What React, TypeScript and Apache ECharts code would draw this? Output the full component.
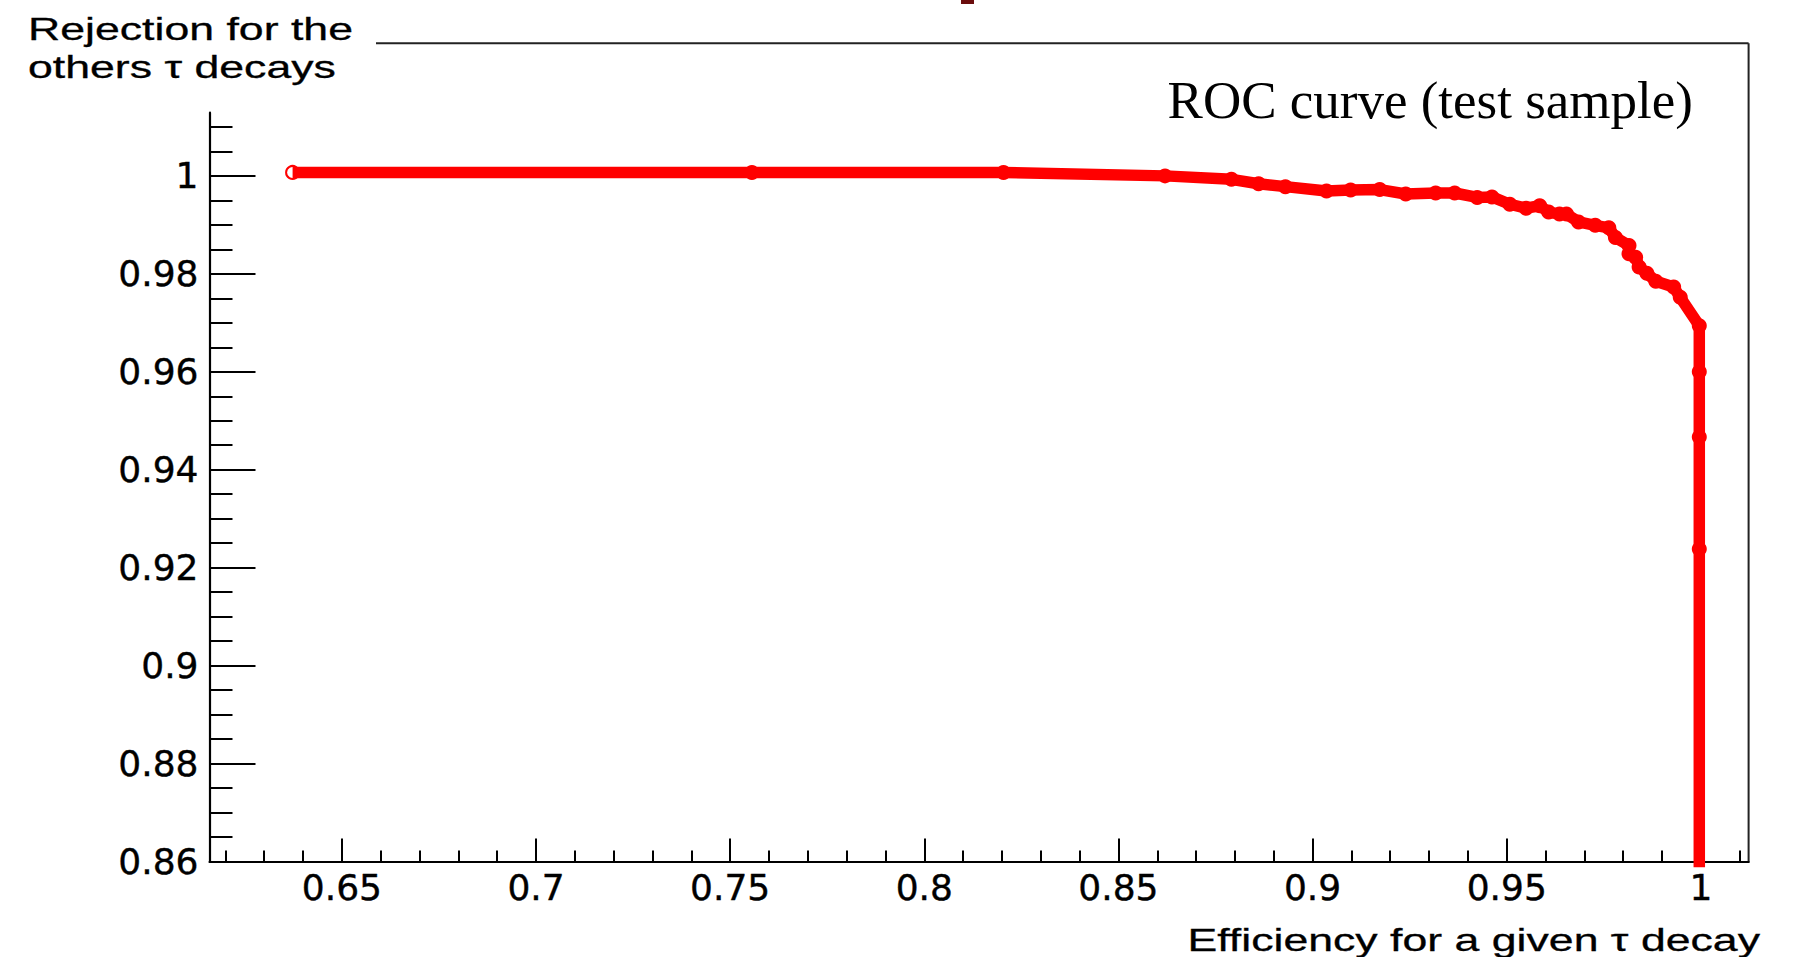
import React, { useEffect, useRef } from "react";
import * as echarts from "echarts";

// ROC curve points: signal efficiency (x) vs background rejection (y)
const effValues = [
  0.6373, 0.7556, 0.8204, 0.862, 0.8791, 0.8861, 0.893, 0.9036, 0.9098, 0.9173,
  0.924, 0.9317, 0.9366, 0.9424, 0.9462, 0.9508, 0.955, 0.9585, 0.9608, 0.9636,
  0.9654, 0.9685, 0.9728, 0.9763, 0.978, 0.9815, 0.9815, 0.9832, 0.9841, 0.9861,
  0.9884, 0.993, 0.9947, 0.9996, 0.9996, 0.9996, 0.9996, 0.9996,
];
const rejValues = [
  1.0007, 1.0007, 1.0007, 1.0, 0.9993, 0.9984, 0.9978, 0.9969, 0.9971, 0.9972,
  0.9963, 0.9965, 0.9965, 0.9956, 0.9957, 0.9942, 0.9934, 0.9939, 0.9926, 0.9922,
  0.9922, 0.9906, 0.9899, 0.9894, 0.9874, 0.9858, 0.9841, 0.9834, 0.9814, 0.9801,
  0.9785, 0.9773, 0.9752, 0.9694, 0.96, 0.9467, 0.9238, 0.85,
];

const X_MIN = 0.6159;
const X_MAX = 1.0123;
const Y_MIN = 0.86;
const Y_MAX = 1.0129;

const xMajorTicks = [0.65, 0.7, 0.75, 0.8, 0.85, 0.9, 0.95, 1.0];
const xMinorTicks = [
  0.62, 0.63, 0.64, 0.66, 0.67, 0.68, 0.69, 0.71, 0.72, 0.73, 0.74, 0.76, 0.77,
  0.78, 0.79, 0.81, 0.82, 0.83, 0.84, 0.86, 0.87, 0.88, 0.89, 0.91, 0.92, 0.93,
  0.94, 0.96, 0.97, 0.98, 0.99, 1.01,
];
const yMajorTicks = [0.86, 0.88, 0.9, 0.92, 0.94, 0.96, 0.98, 1.0];
const yMinorTicks = [
  0.865, 0.87, 0.875, 0.885, 0.89, 0.895, 0.905, 0.91, 0.915, 0.925, 0.93,
  0.935, 0.945, 0.95, 0.955, 0.965, 0.97, 0.975, 0.985, 0.99, 0.995, 1.005,
  1.01,
];

const RED = "#ff0000";
const LABEL_FONT = "DejaVu Sans";
const TITLE_FONT = "Liberation Sans";
const SERIF = "Liberation Serif";

const fmt = (v: number) => String(Number(v.toFixed(3)));

export default function App() {
  const ref = useRef<HTMLDivElement>(null);

  useEffect(() => {
    if (!ref.current) return;
    const chart = echarts.init(ref.current, undefined, { renderer: "svg" });

    const points = effValues.map((x, i) => {
      const item: any = { value: [x, rejValues[i]] };
      if (i === 0) {
        item.symbolSize = 13;
        item.itemStyle = {
          color: "rgba(255,255,255,0)",
          borderColor: RED,
          borderWidth: 2,
        };
      }
      return item;
    });

    const tickLine = { color: "#000", width: 2 };

    const titleText = (text: string, x: number, y: number, align: string) => ({
      type: "text",
      x,
      y,
      scaleX: 1.44,
      style: {
        text,
        fontFamily: TITLE_FONT,
        fontSize: 31,
        fill: "#000",
        stroke: "#000",
        lineWidth: 0.3,
        align,
        verticalAlign: "middle",
      },
    });

    const labelStyle = {
      show: true,
      formatter: fmt,
      fontFamily: LABEL_FONT,
      fontSize: 36,
      color: "#000",
      textBorderColor: "#000",
      textBorderWidth: 0.4,
    };

    chart.setOption({
      animation: false,
      backgroundColor: "#fff",
      grid: {
        left: 209.5,
        right: 51.4,
        top: 112.7,
        bottom: 95.5,
        containLabel: false,
        outerBoundsMode: "none",
      },
      xAxis: [
        {
          type: "value",
          position: "bottom",
          min: X_MIN,
          max: X_MAX,
          axisLine: { show: true, lineStyle: { color: "#000", width: 2.2 } },
          axisTick: {
            show: true,
            inside: true,
            length: 23,
            lineStyle: tickLine,
            customValues: xMajorTicks,
          },
          axisLabel: { ...labelStyle, customValues: xMajorTicks, margin: 8 },
          splitLine: { show: false },
        },
        {
          type: "value",
          position: "bottom",
          min: X_MIN,
          max: X_MAX,
          axisLine: { show: false },
          axisTick: {
            show: true,
            inside: true,
            length: 11,
            lineStyle: tickLine,
            customValues: xMinorTicks,
          },
          axisLabel: { show: false },
          splitLine: { show: false },
        },
      ],
      yAxis: [
        {
          type: "value",
          position: "left",
          min: Y_MIN,
          max: Y_MAX,
          axisLine: { show: true, lineStyle: { color: "#000", width: 2.2 } },
          axisTick: {
            show: true,
            inside: true,
            length: 46,
            lineStyle: tickLine,
            customValues: yMajorTicks,
          },
          axisLabel: { ...labelStyle, customValues: yMajorTicks, margin: 11 },
          splitLine: { show: false },
        },
        {
          type: "value",
          position: "left",
          min: Y_MIN,
          max: Y_MAX,
          axisLine: { show: false },
          axisTick: {
            show: true,
            inside: true,
            length: 23,
            lineStyle: tickLine,
            customValues: yMinorTicks,
          },
          axisLabel: { show: false },
          splitLine: { show: false },
        },
      ],
      series: [
        {
          type: "line",
          xAxisIndex: 0,
          yAxisIndex: 0,
          data: points,
          clip: true,
          symbol: "circle",
          symbolSize: 15,
          itemStyle: { color: RED },
          lineStyle: { color: RED, width: 11.5, join: "round" },
          z: 5,
        },
      ],
      graphic: [
        {
          type: "line",
          shape: { x1: 376, y1: 43.3, x2: 1748.6, y2: 43.3 },
          style: { stroke: "#222", lineWidth: 2 },
        },
        {
          type: "line",
          shape: { x1: 1748.6, y1: 43.3, x2: 1748.6, y2: 862.5 },
          style: { stroke: "#222", lineWidth: 2 },
        },
        {
          type: "rect",
          shape: { x: 961, y: 0, width: 13, height: 4 },
          style: { fill: "#6b0d0d" },
        },
        titleText("Rejection for the", 28, 29.5, "left"),
        titleText("others τ decays", 28, 67.5, "left"),
        titleText("Efficiency for a given τ decay", 1760, 940, "right"),
        {
          type: "text",
          x: 1693,
          y: 100.4,
          style: {
            text: "ROC curve (test sample)",
            fontFamily: SERIF,
            fontSize: 53,
            fill: "#000",
            align: "right",
            verticalAlign: "middle",
          },
        },
      ],
    });

    return () => chart.dispose();
  }, []);

  return (
    <div
      ref={ref}
      style={{
        position: "fixed",
        left: 0,
        top: 0,
        width: 1800,
        height: 957,
        background: "#fff",
      }}
    />
  );
}
